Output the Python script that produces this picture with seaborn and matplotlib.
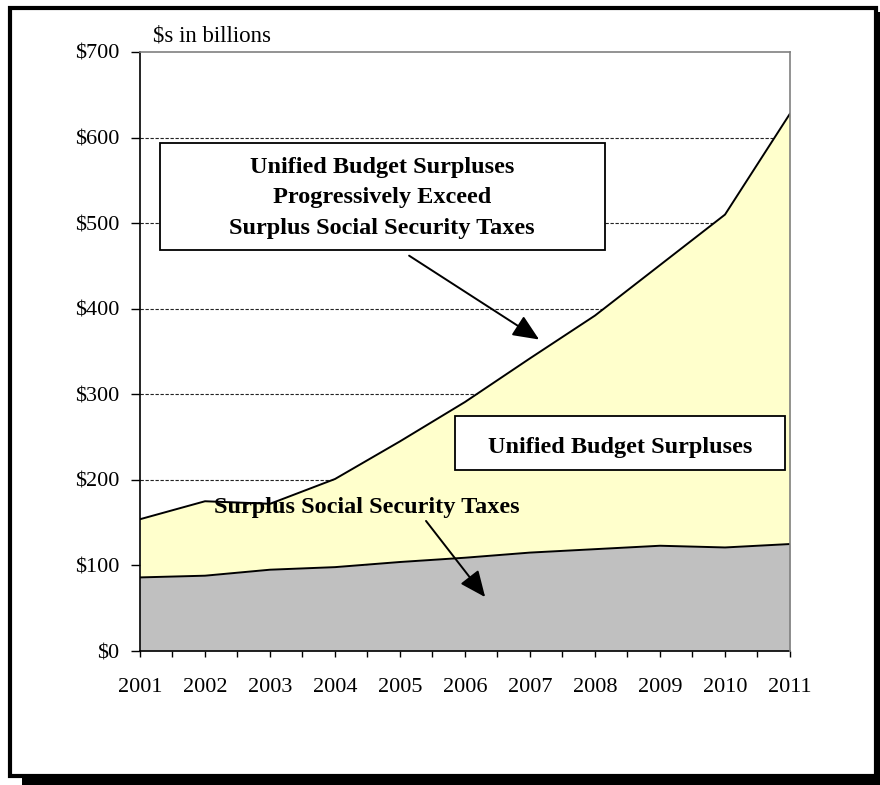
import numpy as np
import matplotlib
matplotlib.use("Agg")
import matplotlib.pyplot as plt
import seaborn as sns
import pandas as pd
from matplotlib.patches import Rectangle
from matplotlib.ticker import FuncFormatter, MultipleLocator

##### data ($ billions)
years = [2001, 2002, 2003, 2004, 2005, 2006, 2007, 2008, 2009, 2010, 2011]
unified_surplus = [154, 175, 172, 201, 245, 291, 342, 392, 451, 510, 628]
ss_taxes = [86, 88, 95, 98, 104, 109, 115, 119, 123, 121, 125]
y_ticks = [0, 100, 200, 300, 400, 500, 600, 700]

df = pd.DataFrame({"year": years, "total": unified_surplus, "ss": ss_taxes})

sns.set_style("white")
plt.rcParams["font.family"] = ["Liberation Serif", "DejaVu Serif"]
plt.rcParams["text.color"] = "black"

W, H = 880, 785
fig = plt.figure(figsize=(W / 100, H / 100), dpi=100)
ax = fig.add_axes([140 / W, 1 - 651 / H, 650 / W, 599 / H])


def px_box(x0, y0, x1, y1, **kw):
    # ピクセル座標(左上原点)で矩形を描く
    r = Rectangle((x0 / W, 1 - y1 / H), (x1 - x0) / W, (y1 - y0) / H,
                  transform=fig.transFigure, **kw)
    fig.patches.append(r)


# 塗りつぶし
ax.fill_between(df["year"], df["ss"], df["total"], color="#FFFFCC", lw=0, zorder=2)
ax.fill_between(df["year"], 0, df["ss"], color="#C0C0C0", lw=0, zorder=2)
sns.lineplot(data=df, x="year", y="total", color="black", lw=1.4, ax=ax, zorder=3)
sns.lineplot(data=df, x="year", y="ss", color="black", lw=1.4, ax=ax, zorder=3)

ax.set_xlim(years[0], years[-1])
ax.set_ylim(0, 700)
ax.set_xlabel("")
ax.set_ylabel("")

# grid (dashed)
for v in y_ticks[1:-1]:
    ax.axhline(v, color="#222222", lw=0.8, ls=(0, (3, 1.5)), zorder=1)

ax.set_yticks(y_ticks)
ax.yaxis.set_major_formatter(FuncFormatter(lambda v, p: "${:d}".format(int(v))))
ax.set_xticks(years)
ax.set_xticklabels([str(y) for y in years])
ax.xaxis.set_minor_locator(MultipleLocator(0.5))
ax.tick_params(axis="both", which="both", direction="out", width=1,
               color="black", labelsize=16, labelcolor="black")
ax.tick_params(axis="x", which="both", bottom=True, length=4.5, pad=15)
ax.tick_params(axis="y", left=True, length=6.5, pad=8.5)

for s in ["top", "right"]:
    ax.spines[s].set_color("#808080")
    ax.spines[s].set_linewidth(1.2)
for s in ["left", "bottom"]:
    ax.spines[s].set_color("black")
    ax.spines[s].set_linewidth(1.2)
ax.spines["top"].set_zorder(4)
ax.spines["right"].set_zorder(4)

ax.text(0.02, 1.01, "$s in billions", transform=ax.transAxes, fontsize=16.5,
        ha="left", va="bottom", color="black")

# 注釈ボックス
px_box(160, 143, 605, 250, fc="white", ec="black", lw=1.3, zorder=5)
px_box(455, 416, 785, 470, fc="white", ec="black", lw=1.3, zorder=5)

fig.text(382 / W, 1 - 198 / H, "Unified Budget Surpluses\nProgressively Exceed\nSurplus Social Security Taxes",
         linespacing=1.58, zorder=6, fontsize=17.5, fontweight="bold", ha="center", va="center")
fig.text(620 / W, 1 - 448 / H, "Unified Budget Surpluses", zorder=6,
         fontsize=17.5, fontweight="bold", ha="center", va="center")
fig.text(367 / W, 1 - 508 / H, "Surplus Social Security Taxes", zorder=6,
         fontsize=17.5, fontweight="bold", ha="center", va="center")

arrow = dict(arrowstyle="-|>,head_length=1.6,head_width=0.7", color="black", lw=1.4,
             shrinkA=0, shrinkB=0)
ax.annotate("", xy=(2007.14, 364), xytext=(2005.14, 462), arrowprops=arrow, zorder=6)
ax.annotate("", xy=(2006.31, 63), xytext=(2005.40, 152), arrowprops=arrow, zorder=6)

# 外枠と影
px_box(22, 774, 880, 785, fc="black", ec="none", zorder=0)
px_box(875, 12, 880, 785, fc="black", ec="none", zorder=0)
px_box(10, 8, 876, 776, fc="none", ec="black", lw=3, zorder=0)

plt.savefig("out.png", dpi=100)
plt.close()
